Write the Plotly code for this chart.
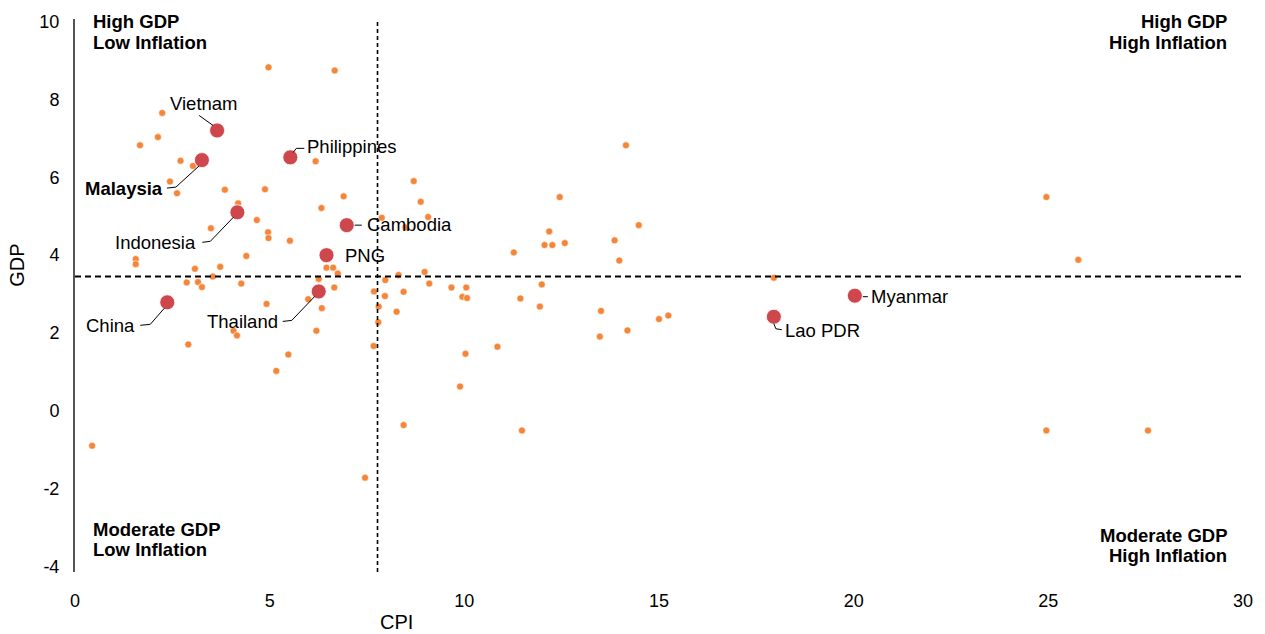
import plotly.graph_objects as go

# Other economies: CPI inflation (%) and real GDP growth (%)
other_cpi = [4.97, 6.67, 2.24, 2.13, 1.67, 2.71, 3.03, 6.18, 14.15, 2.44,
             2.62, 3.85, 4.88, 6.90, 8.70, 8.88, 9.07, 7.88, 4.19, 6.33,
             4.67, 3.49, 4.96, 4.97, 5.52, 8.49, 12.45, 12.18, 12.06, 12.26,
             12.58, 11.27, 14.48, 13.86, 13.98, 1.56, 1.56, 4.40, 3.08, 3.73,
             3.54, 6.46, 6.63, 6.75, 6.26, 2.87, 3.16, 3.26, 4.27, 6.66,
             7.97, 8.31, 8.98, 9.10, 7.68, 7.96, 8.44, 9.67, 10.05, 9.95,
             10.07, 11.99, 11.44, 11.94, 13.51, 15.00, 15.24, 14.19, 13.48, 7.80,
             7.79, 8.26, 7.67, 10.85, 10.03, 9.89, 8.44, 11.48, 7.45, 0.44,
             5.99, 6.34, 4.92, 6.20, 4.07, 4.16, 2.91, 5.48, 5.17, 17.95,
             24.95, 25.77, 24.95, 27.56]
other_gdp = [8.82, 8.74, 7.65, 7.03, 6.82, 6.42, 6.29, 6.41, 6.82, 5.89,
             5.59, 5.68, 5.69, 5.51, 5.90, 5.37, 4.98, 4.96, 5.33, 5.21,
             4.90, 4.69, 4.59, 4.44, 4.37, 4.71, 5.49, 4.61, 4.26, 4.26,
             4.31, 4.07, 4.77, 4.38, 3.86, 3.90, 3.77, 3.98, 3.65, 3.70,
             3.45, 3.68, 3.68, 3.53, 3.39, 3.30, 3.31, 3.18, 3.27, 3.17,
             3.36, 3.49, 3.57, 3.27, 3.07, 2.95, 3.06, 3.17, 3.17, 2.93,
             2.90, 3.25, 2.89, 2.68, 2.57, 2.36, 2.45, 2.07, 1.91, 2.68,
             2.28, 2.55, 1.67, 1.65, 1.47, 0.63, -0.36, -0.50, -1.71, -0.89,
             2.87, 2.64, 2.75, 2.06, 2.06, 1.94, 1.71, 1.45, 1.03, 3.42,
             5.49, 3.88, -0.50, -0.50]

# Highlighted economies
countries = ["Vietnam", "Malaysia", "Philippines", "Indonesia", "Cambodia",
             "PNG", "Thailand", "China", "Myanmar", "Lao PDR"]
country_cpi = [3.65, 3.26, 5.53, 4.17, 6.98, 6.46, 6.26, 2.37, 20.03, 17.95]
country_gdp = [7.20, 6.44, 6.51, 5.10, 4.77, 4.00, 3.07, 2.79, 2.96, 2.42]

# Quadrant dividers
cpi_split = 7.77
gdp_split = 3.45

x_ticks = [0, 5, 10, 15, 20, 25, 30]
y_ticks = [-4, -2, 0, 2, 4, 6, 8, 10]

FONT = "Liberation Sans, Arial, sans-serif"
ORANGE = "#F4863A"
RED = "#CE474C"

fig = go.Figure()

fig.add_trace(go.Scatter(
    x=other_cpi, y=other_gdp, mode="markers",
    marker=dict(size=7, color=ORANGE, line=dict(width=0.6, color="white")),
    hoverinfo="x+y", showlegend=False,
))
fig.add_trace(go.Scatter(
    x=country_cpi, y=country_gdp, mode="markers", text=countries,
    marker=dict(size=15, color=RED, line=dict(width=0.8, color="white")),
    hoverinfo="text+x+y", showlegend=False,
))

# dividers
fig.add_shape(type="line", xref="x", yref="paper", x0=cpi_split, x1=cpi_split,
              y0=0, y1=1, line=dict(color="black", width=1.6, dash="4px,3px"))
fig.add_shape(type="line", xref="paper", yref="y", x0=0, x1=1,
              y0=gdp_split, y1=gdp_split,
              line=dict(color="black", width=2, dash="6px,4px"))

# label placement: text anchor, pixel offset (screen, y down), leader path (screen px)
label_style = {
    "Vietnam":     ("center", (-13, -27), [(-4, -5), (-18, -15)], False),
    "Malaysia":    ("right", (-37, 28), [(-3, 6), (-26, 27), (-35, 28)], True),
    "Philippines": ("left", (15, -11), [(3, -5), (6, -9), (14, -9)], False),
    "Indonesia":   ("right", (-39, 30), [(-4, 5), (-27, 29), (-35, 30)], False),
    "Cambodia":    ("left", (18, -1), [(8, 0), (15, 0)], False),
    "PNG":         ("left", (16, 0), [], False),
    "Thailand":    ("right", (-39, 30), [(-4, 5), (-27, 29), (-36, 30)], False),
    "China":       ("right", (-30, 23), [(-3, 6), (-17, 22), (-27, 23)], False),
    "Myanmar":     ("left", (14, 1), [(8, 1), (13, 1)], False),
    "Lao PDR":     ("left", (9, 14), [(0, 7), (2, 12), (8, 13)], False),
}

for name, cx, cy in zip(countries, country_cpi, country_gdp):
    anchor, (dx, dy), leader, bold = label_style[name]
    fig.add_annotation(
        x=cx, y=cy, xref="x", yref="y", text=f"<b>{name}</b>" if bold else name,
        showarrow=False, xanchor=anchor, yanchor="middle",
        xshift=dx, yshift=-dy,
        font=dict(family=FONT, size=18.5, color="black"),
    )
    if leader:
        path = "M " + " L ".join(f"{px},{-py}" for px, py in leader)
        fig.add_shape(type="path", xref="x", yref="y",
                      xsizemode="pixel", ysizemode="pixel",
                      xanchor=cx, yanchor=cy, path=path,
                      line=dict(color="black", width=1))

# quadrant captions, one annotation per line for tight line spacing
quad_font = dict(family=FONT, size=18.5, color="black")
quadrant_lines = [
    # (text, paper x, paper y, x anchor, x shift, y shift)
    ("High GDP", 0, 1, "left", 16, -2),
    ("Low Inflation", 0, 1, "left", 16, -23),
    ("High GDP", 1, 1, "right", -14, -2),
    ("High Inflation", 1, 1, "right", -14, -23),
    ("Moderate GDP", 0, 0, "left", 16, 43),
    ("Low Inflation", 0, 0, "left", 16, 23),
    ("Moderate GDP", 1, 0, "right", -14, 37),
    ("High Inflation", 1, 0, "right", -14, 17),
]
for text, qx, qy, anchor, xs, ys in quadrant_lines:
    fig.add_annotation(xref="paper", yref="paper", x=qx, y=qy,
                       xshift=xs, yshift=ys, xanchor=anchor, yanchor="middle",
                       showarrow=False, text=f"<b>{text}</b>", font=quad_font)

# axis titles sit next to the dividers
fig.add_annotation(xref="x", yref="paper", x=8.25, y=0, yshift=-50,
                   xanchor="center", yanchor="middle", showarrow=False,
                   text="CPI", font=dict(family=FONT, size=20, color="black"))
fig.add_annotation(xref="paper", yref="y", x=0, y=3.73, xshift=-58,
                   xanchor="center", yanchor="middle", showarrow=False,
                   textangle=-90, text="GDP",
                   font=dict(family=FONT, size=20, color="black"))

fig.update_xaxes(
    range=[0, 30], tickvals=x_ticks, ticktext=[str(v) for v in x_ticks],
    showgrid=False, zeroline=False, showline=False,
    ticks="outside", ticklen=12, tickcolor="rgba(0,0,0,0)",
    tickfont=dict(family=FONT, size=18, color="black"),
)
fig.update_yaxes(
    range=[-4.13, 10.06], tickvals=y_ticks, ticktext=[str(v) for v in y_ticks],
    showgrid=False, zeroline=False, showline=True, linecolor="#555555",
    linewidth=2, ticks="outside", ticklen=10, tickcolor="rgba(0,0,0,0)",
    tickfont=dict(family=FONT, size=18, color="black"),
)

fig.update_layout(
    width=1265, height=634,
    margin=dict(l=75, r=20, t=18, b=62),
    plot_bgcolor="white", paper_bgcolor="white",
    font=dict(family=FONT),
    showlegend=False,
)

fig.write_html("out.html")
